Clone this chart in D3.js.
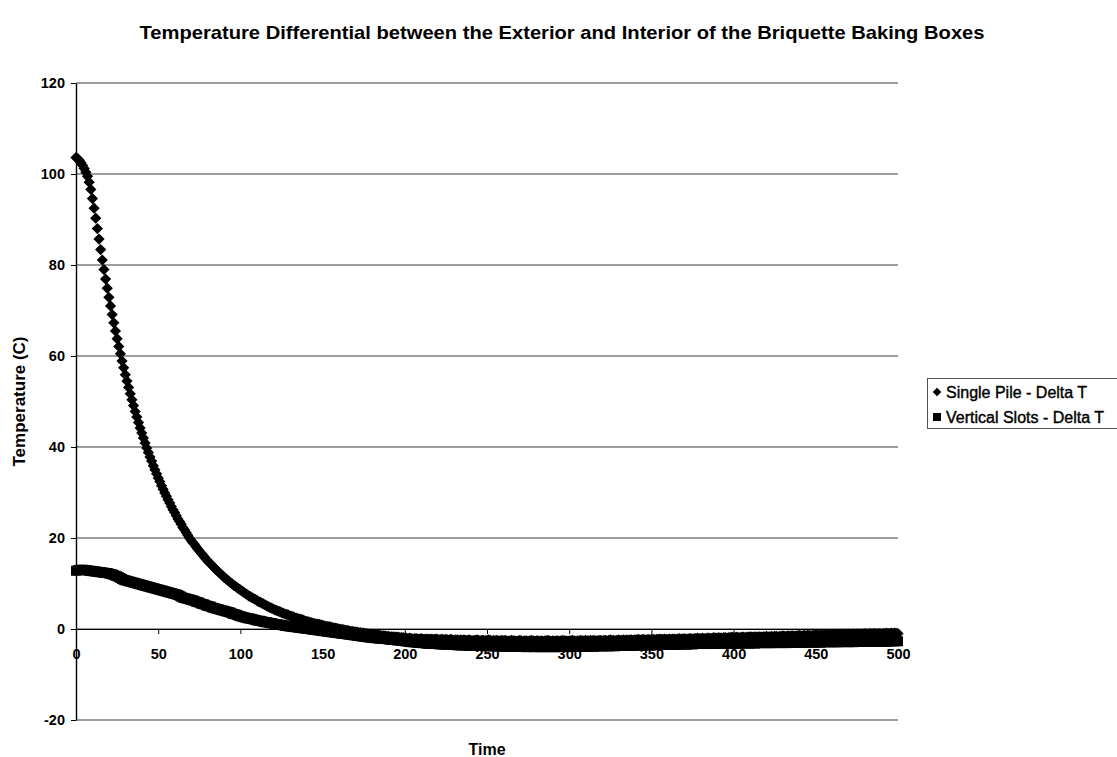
<!DOCTYPE html>
<html><head><meta charset="utf-8">
<script src="https://cdn.jsdelivr.net/npm/d3@7"></script>
<style>
html,body{margin:0;padding:0;background:#fff;}
svg{display:block;font-family:"Liberation Sans",Arial,sans-serif;}
</style></head>
<body>
<svg id="chart" width="1117" height="757"></svg>
<script>
// ---- data ----
const title = "Temperature Differential between the Exterior and Interior of the Briquette Baking Boxes";
const xTitle = "Time";
const yTitle = "Temperature (C)";
const seriesNames = ["Single Pile - Delta T", "Vertical Slots - Delta T"];
const xTicks = [0, 50, 100, 150, 200, 250, 300, 350, 400, 450, 500];
const yTicks = [-20, 0, 20, 40, 60, 80, 100, 120];

// one reading per time unit, t = 0 .. 500
const singlePile = [
103.6,103.4,103.0,102.5,101.9,101.2,100.4,99.5,98.2,96.6,
94.6,92.5,90.3,88.0,85.7,83.4,81.1,79.0,76.9,74.9,
72.9,71.0,69.1,67.3,65.5,63.8,62.1,60.5,58.9,57.4,
55.9,54.5,53.1,51.7,50.4,49.1,47.8,46.6,45.4,44.2,
43.1,42.0,40.9,39.8,38.8,37.8,36.9,35.9,35.0,34.1,
33.2,32.4,31.5,30.7,29.9,29.2,28.4,27.7,26.9,26.2,
25.6,24.9,24.2,23.6,23.0,22.3,21.8,21.2,20.6,20.0,
19.5,19.0,18.6,18.1,17.6,17.2,16.7,16.3,15.9,15.4,
15.0,14.6,14.3,13.9,13.5,13.1,12.8,12.4,12.1,11.8,
11.4,11.1,10.8,10.5,10.2,9.9,9.6,9.4,9.1,8.8,
8.6,8.3,8.1,7.8,7.6,7.3,7.1,6.9,6.7,6.5,
6.3,6.0,5.9,5.7,5.5,5.3,5.1,4.9,4.7,4.6,
4.4,4.2,4.1,3.9,3.8,3.6,3.5,3.3,3.2,3.1,
2.9,2.8,2.7,2.5,2.4,2.3,2.2,2.1,2.0,1.8,
1.7,1.6,1.5,1.4,1.3,1.2,1.1,1.1,1.0,0.9,
0.8,0.7,0.6,0.5,0.5,0.4,0.3,0.2,0.2,0.1,
0.0,-0.1,-0.1,-0.2,-0.3,-0.3,-0.4,-0.5,-0.5,-0.6,
-0.6,-0.7,-0.8,-0.8,-0.9,-0.9,-1.0,-1.0,-1.1,-1.1,
-1.2,-1.2,-1.3,-1.3,-1.4,-1.4,-1.5,-1.5,-1.5,-1.6,
-1.6,-1.7,-1.7,-1.7,-1.8,-1.8,-1.8,-1.9,-1.9,-1.9,
-2.0,-2.0,-2.1,-2.0,-2.1,-2.2,-2.1,-2.1,-2.2,-2.2,
-2.1,-2.2,-2.3,-2.2,-2.2,-2.3,-2.2,-2.3,-2.3,-2.2,
-2.3,-2.4,-2.3,-2.3,-2.4,-2.3,-2.4,-2.4,-2.3,-2.4,
-2.5,-2.4,-2.4,-2.5,-2.4,-2.5,-2.4,-2.5,-2.5,-2.4,
-2.5,-2.6,-2.5,-2.5,-2.4,-2.5,-2.6,-2.5,-2.5,-2.6,
-2.5,-2.4,-2.5,-2.6,-2.5,-2.6,-2.5,-2.6,-2.6,-2.5,
-2.6,-2.5,-2.6,-2.7,-2.6,-2.5,-2.6,-2.6,-2.7,-2.6,
-2.5,-2.6,-2.7,-2.6,-2.6,-2.7,-2.6,-2.5,-2.6,-2.7,
-2.6,-2.6,-2.7,-2.6,-2.7,-2.6,-2.6,-2.5,-2.6,-2.7,
-2.6,-2.7,-2.6,-2.6,-2.7,-2.6,-2.5,-2.6,-2.6,-2.7,
-2.6,-2.6,-2.5,-2.6,-2.7,-2.6,-2.6,-2.5,-2.6,-2.6,
-2.5,-2.6,-2.6,-2.5,-2.6,-2.5,-2.6,-2.6,-2.5,-2.5,
-2.6,-2.5,-2.5,-2.6,-2.5,-2.4,-2.5,-2.5,-2.6,-2.5,
-2.4,-2.5,-2.5,-2.4,-2.5,-2.4,-2.5,-2.4,-2.4,-2.5,
-2.4,-2.4,-2.3,-2.4,-2.4,-2.3,-2.4,-2.4,-2.3,-2.4,
-2.3,-2.3,-2.4,-2.3,-2.3,-2.2,-2.3,-2.3,-2.2,-2.3,
-2.3,-2.2,-2.3,-2.2,-2.2,-2.3,-2.2,-2.1,-2.2,-2.2,
-2.1,-2.2,-2.2,-2.1,-2.1,-2.2,-2.1,-2.1,-2.0,-2.1,
-2.1,-2.0,-2.1,-2.1,-2.0,-2.0,-2.1,-2.0,-1.9,-2.0,
-2.0,-1.9,-2.0,-2.0,-1.9,-1.9,-2.0,-1.9,-1.9,-1.8,
-1.9,-1.9,-1.8,-1.9,-1.9,-1.8,-1.8,-1.9,-1.8,-1.8,
-1.7,-1.8,-1.8,-1.7,-1.8,-1.7,-1.7,-1.8,-1.7,-1.7,
-1.6,-1.7,-1.7,-1.6,-1.7,-1.6,-1.6,-1.7,-1.6,-1.6,
-1.5,-1.6,-1.6,-1.5,-1.6,-1.5,-1.5,-1.6,-1.5,-1.5,
-1.4,-1.5,-1.5,-1.4,-1.5,-1.4,-1.4,-1.5,-1.4,-1.4,
-1.3,-1.4,-1.4,-1.3,-1.4,-1.3,-1.3,-1.4,-1.3,-1.3,
-1.2,-1.3,-1.3,-1.2,-1.3,-1.2,-1.2,-1.3,-1.2,-1.2,
-1.1,-1.2,-1.2,-1.1,-1.2,-1.1,-1.1,-1.2,-1.1,-1.1,
-1.0,-1.1,-1.1,-1.0,-1.1,-1.0,-1.0,-1.1,-1.0,-1.0,
-1.1,-1.0,-1.0,-0.9,-1.0,-1.0,-0.9,-1.0,-0.9,-1.0,
-1.0
];

const verticalSlots = [
12.8,12.9,13.0,13.0,13.0,13.0,12.9,12.9,12.8,12.8,
12.7,12.7,12.6,12.6,12.5,12.5,12.4,12.4,12.3,12.3,
12.2,12.1,12.0,11.9,11.7,11.6,11.4,11.2,11.0,10.8,
10.7,10.6,10.5,10.4,10.3,10.2,10.1,10.0,9.9,9.8,
9.7,9.6,9.5,9.4,9.3,9.2,9.1,9.0,8.9,8.8,
8.7,8.6,8.5,8.4,8.3,8.2,8.1,8.0,7.9,7.8,
7.7,7.6,7.5,7.3,7.1,6.9,6.8,6.7,6.6,6.5,
6.4,6.3,6.2,6.0,5.9,5.8,5.6,5.5,5.4,5.2,
5.1,5.0,4.9,4.7,4.6,4.5,4.4,4.3,4.2,4.1,
4.0,3.9,3.8,3.7,3.6,3.4,3.3,3.2,3.1,2.9,
2.8,2.7,2.6,2.5,2.4,2.3,2.3,2.2,2.1,2.0,
1.9,1.8,1.8,1.7,1.6,1.5,1.5,1.4,1.3,1.3,
1.2,1.1,1.1,1.0,0.9,0.9,0.8,0.7,0.7,0.6,
0.6,0.5,0.5,0.4,0.4,0.3,0.3,0.2,0.2,0.1,
0.1,0.0,0.0,-0.1,-0.1,-0.2,-0.2,-0.3,-0.3,-0.4,
-0.4,-0.5,-0.5,-0.6,-0.6,-0.7,-0.7,-0.8,-0.8,-0.9,
-0.9,-1.0,-1.0,-1.1,-1.1,-1.2,-1.2,-1.3,-1.3,-1.4,
-1.4,-1.5,-1.5,-1.6,-1.6,-1.7,-1.7,-1.8,-1.8,-1.9,
-1.9,-2.0,-2.0,-2.0,-2.1,-2.1,-2.1,-2.2,-2.2,-2.2,
-2.3,-2.3,-2.4,-2.4,-2.4,-2.5,-2.5,-2.5,-2.6,-2.6,
-2.7,-2.7,-2.8,-2.8,-2.9,-2.9,-2.9,-3.0,-3.0,-3.0,
-3.1,-3.1,-3.1,-3.2,-3.2,-3.2,-3.3,-3.2,-3.3,-3.3,
-3.3,-3.4,-3.3,-3.4,-3.4,-3.4,-3.5,-3.4,-3.5,-3.5,
-3.5,-3.5,-3.6,-3.5,-3.6,-3.6,-3.5,-3.6,-3.6,-3.7,
-3.6,-3.6,-3.7,-3.6,-3.7,-3.7,-3.6,-3.7,-3.7,-3.8,
-3.7,-3.7,-3.8,-3.7,-3.8,-3.8,-3.7,-3.8,-3.8,-3.9,
-3.8,-3.8,-3.9,-3.8,-3.8,-3.9,-3.8,-3.9,-3.9,-3.8,
-3.9,-3.9,-3.8,-3.9,-4.0,-3.9,-3.9,-3.8,-3.9,-4.0,
-3.9,-3.9,-4.0,-3.9,-3.9,-4.0,-3.9,-3.9,-4.0,-3.9,
-3.9,-4.0,-3.9,-3.9,-4.0,-3.9,-3.8,-3.9,-3.9,-4.0,
-3.9,-3.9,-3.8,-3.9,-3.9,-3.8,-3.9,-3.9,-3.8,-3.9,
-3.8,-3.8,-3.9,-3.8,-3.8,-3.9,-3.8,-3.8,-3.7,-3.8,
-3.8,-3.7,-3.8,-3.8,-3.7,-3.8,-3.7,-3.7,-3.8,-3.7,
-3.7,-3.7,-3.6,-3.7,-3.7,-3.6,-3.7,-3.6,-3.6,-3.7,
-3.6,-3.6,-3.6,-3.5,-3.6,-3.6,-3.5,-3.6,-3.5,-3.5,
-3.6,-3.5,-3.5,-3.6,-3.5,-3.5,-3.4,-3.5,-3.5,-3.4,
-3.5,-3.5,-3.4,-3.4,-3.5,-3.4,-3.4,-3.3,-3.4,-3.4,
-3.3,-3.4,-3.4,-3.3,-3.3,-3.4,-3.3,-3.3,-3.2,-3.3,
-3.3,-3.2,-3.3,-3.3,-3.2,-3.2,-3.3,-3.2,-3.2,-3.1,
-3.2,-3.3,-3.2,-3.3,-3.3,-3.2,-3.2,-3.3,-3.2,-3.2,
-3.2,-3.2,-3.1,-3.2,-3.2,-3.1,-3.1,-3.2,-3.1,-3.1,
-3.2,-3.1,-3.1,-3.2,-3.1,-3.1,-3.0,-3.1,-3.1,-3.0,
-3.1,-3.1,-3.0,-3.1,-3.1,-3.0,-3.0,-3.1,-3.0,-3.0,
-3.1,-3.0,-3.0,-3.1,-3.0,-3.0,-2.9,-3.0,-3.0,-2.9,
-3.0,-3.0,-2.9,-3.0,-3.0,-2.9,-2.9,-3.0,-2.9,-2.9,
-3.0,-2.9,-2.9,-3.0,-2.9,-2.9,-2.8,-2.9,-2.9,-2.8,
-2.9,-2.9,-2.8,-2.9,-2.9,-2.8,-2.8,-2.9,-2.8,-2.8,
-2.9,-2.8,-2.8,-2.9,-2.8,-2.8,-2.7,-2.8,-2.8,-2.7,
-2.8,-2.8,-2.7,-2.8,-2.8,-2.7,-2.7,-2.8,-2.7,-2.7,
-2.8,-2.7,-2.7,-2.8,-2.7,-2.7,-2.6,-2.7,-2.7,-2.6,
-2.7
];

// ---- layout ----
const svg = d3.select("#chart");
const plot = {left: 76, right: 898, top: 83, bottom: 720};
const x = d3.scaleLinear().domain([0, 500]).range([plot.left, plot.right]);
const y = d3.scaleLinear().domain([-20, 120]).range([plot.bottom, plot.top]);
const fmt = d => String(d);

// title
svg.append("text").attr("x", 562).attr("y", 39).attr("text-anchor", "middle")
  .attr("font-size", 19).attr("font-weight", "bold")
  .attr("textLength", 845).attr("lengthAdjust", "spacingAndGlyphs").text(title);

// gridlines
svg.append("g").selectAll("line").data(yTicks).join("line")
  .attr("x1", plot.left).attr("x2", plot.right)
  .attr("y1", d => y(d)).attr("y2", d => y(d))
  .attr("stroke", "#3a3a3a").attr("stroke-width", 1);

// y axis
const yAxis = svg.append("g").attr("transform", `translate(${plot.left},0)`)
  .call(d3.axisLeft(y).tickValues(yTicks).tickFormat(fmt).tickSize(5).tickSizeOuter(0).tickPadding(6));
yAxis.select(".domain").attr("stroke", "#000").attr("stroke-width", 1.4);
yAxis.selectAll("text").attr("font-size", 14.5).attr("font-weight", "bold").attr("fill", "#000")
  .attr("font-family", "'Liberation Sans',Arial,sans-serif");

// x axis at y = 0
const xAxis = svg.append("g").attr("transform", `translate(0,${y(0)})`)
  .call(d3.axisBottom(x).tickValues(xTicks).tickFormat(fmt).tickSize(5).tickSizeOuter(0).tickPadding(15));
xAxis.select(".domain").attr("stroke", "#000").attr("stroke-width", 1.2);
xAxis.selectAll("text").attr("font-size", 14.5).attr("font-weight", "bold").attr("fill", "#000")
  .attr("font-family", "'Liberation Sans',Arial,sans-serif");

// axis titles
svg.append("text").attr("x", (plot.left + plot.right) / 2).attr("y", 755)
  .attr("text-anchor", "middle").attr("font-size", 16).attr("font-weight", "bold").text(xTitle);
svg.append("text").attr("transform", `translate(25,${(plot.top + plot.bottom) / 2}) rotate(-90)`)
  .attr("text-anchor", "middle").attr("font-size", 17).attr("font-weight", "bold").text(yTitle);

// markers
const diamond = r => `M0,${-r}L${r},0L0,${r}L${-r},0Z`;
const spData = singlePile.map((v, i) => ({t: i, v}));
const vsData = verticalSlots.map((v, i) => ({t: i, v}));

svg.append("g").selectAll("path").data(spData).join("path")
  .attr("d", diamond(5.6))
  .attr("transform", d => `translate(${x(d.t)},${y(d.v)})`)
  .attr("fill", "#000");

svg.append("g").selectAll("rect").data(vsData).join("rect")
  .attr("x", d => x(d.t) - 5).attr("y", d => y(d.v) - 5)
  .attr("width", 10).attr("height", 10).attr("fill", "#000");

// legend
const lg = svg.append("g");
lg.append("rect").attr("x", 927.5).attr("y", 378.5).attr("width", 200).attr("height", 50)
  .attr("fill", "#fff").attr("stroke", "#555").attr("stroke-width", 1);
lg.append("path").attr("d", diamond(4.3)).attr("transform", "translate(937,392)").attr("fill", "#000");
lg.append("rect").attr("x", 933).attr("y", 413).attr("width", 8).attr("height", 8).attr("fill", "#000");
lg.selectAll("text.lt").data(seriesNames).join("text").attr("class", "lt")
  .attr("x", 946).attr("y", (d, i) => 397.5 + i * 25)
  .attr("font-size", 16).attr("fill", "#000").attr("stroke", "#000").attr("stroke-width", 0.4)
  .text(d => d);
</script>
</body></html>
